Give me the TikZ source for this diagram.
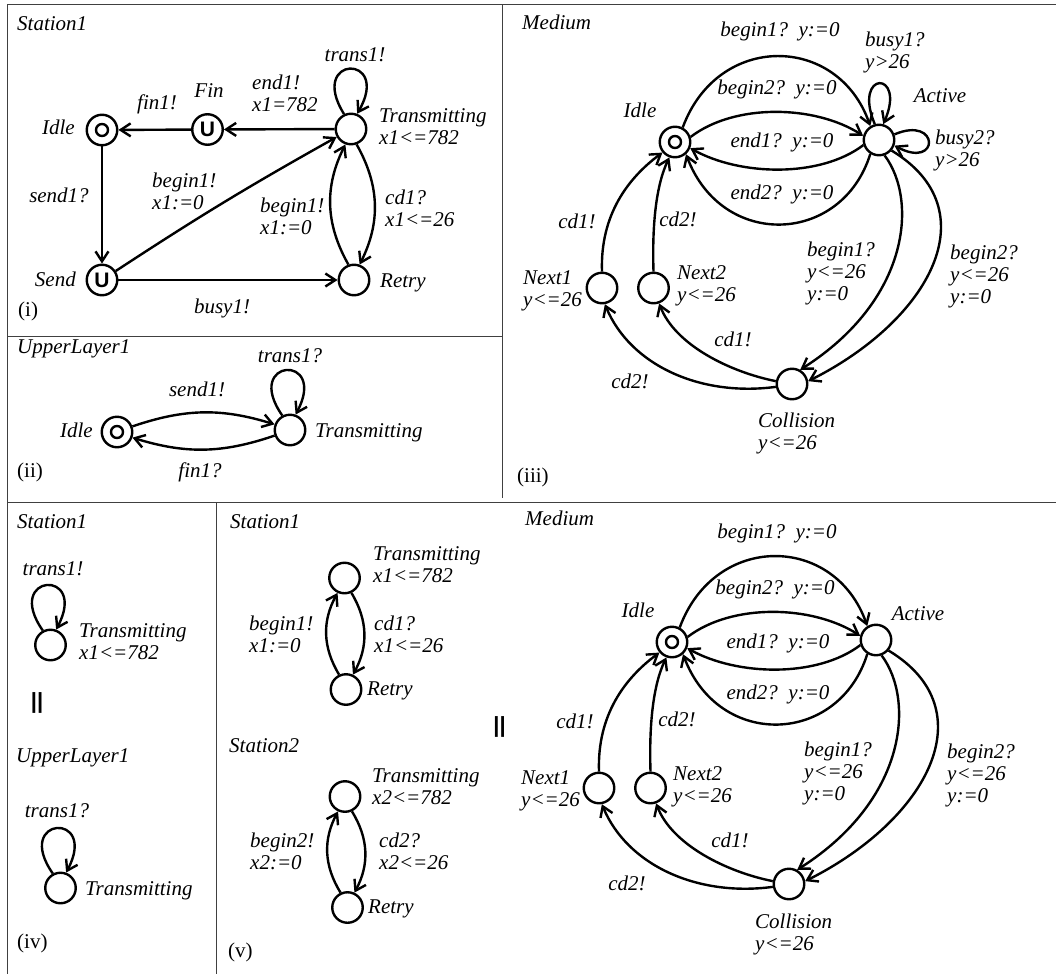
\documentclass[tikz,border=0pt]{standalone}
\usepackage{fontspec}
\setmainfont{Liberation Serif}
\newfontfamily\ufont{Liberation Sans}
\usetikzlibrary{arrows.meta}
\begin{document}
\begin{tikzpicture}[x=1pt,y=1pt,
  st/.style={circle,draw,line width=2.4pt,minimum size=30.5pt,inner sep=0pt},
  ini/.style={st,path picture={\draw[line width=2.4pt] (path picture bounding box.center) circle (6pt);}},
  urg/.style={st,font=\ufont\bfseries\fontsize{21}{21}\selectfont},
  tr/.style={line width=2.4pt,-{Straight Barb[length=10pt,width=13pt]}},
  lb/.style={font=\itshape\fontsize{21}{22}\selectfont,inner sep=0pt,align=left},
  pn/.style={font=\fontsize{21}{22}\selectfont,inner sep=0pt},
  par/.style={font=\ufont\bfseries\fontsize{22}{22}\selectfont,inner sep=0pt},
  fr/.style={line width=1pt,draw=black!75}]
\useasboundingbox (0,0) rectangle (1056,-974);
% frame
\draw[fr] (7,-4.5) -- (1056,-4.5);
\draw[fr] (7,-4.5) -- (7,-974);
\draw[fr] (502,-4.5) -- (502,-498);
\draw[fr] (7,-336) -- (502,-336);
\draw[fr] (7,-502) -- (1056,-502);
\draw[fr] (216,-502) -- (216,-974);

% ---------------- (i) Station1
\node[ini] (a1) at (102,-130) {};
\node[urg] (f1) at (207.5,-129.5) {U};
\node[st] (t1) at (351,-129) {};
\node[urg] (s1) at (102,-280) {U};
\node[st] (r1) at (354,-280) {};
\draw[tr] (f1) -- (a1);
\draw[tr] (t1) -- (f1);
\draw[tr] (a1) -- (s1);
\draw[tr] (s1) to[bend left=2] (t1);
\draw[tr] (s1) -- (r1);
\draw[tr] (t1.290) to[bend left=28] (r1.70);
\draw[tr] (r1.110) to[bend left=28] (t1.250);
\draw[tr] (t1.115) .. controls +(122:70) and +(60:70) .. (t1.68);
\node[lb,anchor=base west] (i1) at (17,-31) {Station1};
\node[lb,anchor=base] (i2) at (355,-62) {trans1!};
\node[lb,anchor=base west] (i3) at (252,-111) {end1!\\x1=782};
\node[lb,anchor=base] (i4) at (209,-97) {Fin};
\node[lb,anchor=base] (i5) at (157,-109) {fin1!};
\node[lb,anchor=base east] (i6) at (75,-134) {Idle};
\node[lb,anchor=base west] (i7) at (379,-144) {Transmitting\\x1<=782};
\node[lb,anchor=base] (i8) at (59,-202) {send1?};
\node[lb,anchor=base west] (i9) at (152,-209) {begin1!\\x1:=0};
\node[lb,anchor=base west] (i10) at (260,-234) {begin1!\\x1:=0};
\node[lb,anchor=base west] (i11) at (385,-226) {cd1?\\x1<=26};
\node[lb,anchor=base east] (i12) at (76,-286) {Send};
\node[lb,anchor=base west] (i13) at (380,-287) {Retry};
\node[lb,anchor=base] (i14) at (222,-313) {busy1!};
\node[pn,anchor=base west] (i15) at (18,-316) {(i)};

% ---------------- (ii) UpperLayer1
\node[ini] (a2) at (117,-432) {};
\node[st] (t2) at (290,-430) {};
\draw[tr] (a2.20) to[bend left=18] (t2.160);
\draw[tr] (t2.200) to[bend left=18] (a2.-20);
\draw[tr] (t2.118) .. controls +(125:70) and +(62:70) .. (t2.70);
\node[lb,anchor=base west] (ii1) at (17,-353) {UpperLayer1};
\node[lb,anchor=base east] (ii2) at (93,-437) {Idle};
\node[lb,anchor=base west] (ii3) at (315,-437) {Transmitting};
\node[lb,anchor=base] (ii4) at (197,-396) {send1!};
\node[lb,anchor=base] (ii5) at (290,-362) {trans1?};
\node[lb,anchor=base] (ii6) at (200,-477) {fin1?};
\node[pn,anchor=base west] (ii7) at (17,-477) {(ii)};

% ---------------- Medium (iii) and (v)
\newcommand\mediumcore{%
  \node[ini] (I) at (675,-142) {};
  \node[st] (A) at (879,-140) {};
  \node[st] (N1) at (602,-288) {};
  \node[st] (N2) at (653.5,-288) {};
  \node[st] (C) at (792,-384) {};
  \draw[tr] (I.62) .. controls (718,-32) and (838,-34) .. (A.122);
  \draw[tr] (I.18) .. controls (735,-103) and (815,-105) .. (A.165);
  \draw[tr] (A.198) .. controls (820,-178) and (740,-176) .. (I.338);
  \draw[tr] (A.238) .. controls (842,-245) and (722,-250) .. (I.312);
  \draw[tr] (N1.90) .. controls (600,-215) and (628,-178) .. (I.220);
  \draw[tr] (N2.90) .. controls (652,-225) and (656,-185) .. (I.250);
  \draw[tr] (A.290) .. controls (918,-200) and (910,-300) .. (C.60);
  \draw[tr] (A.320) .. controls (990,-210) and (930,-320) .. (C.10);
  \draw[tr] (C.170) .. controls (730,-372) and (675,-345) .. (N2.290);
  \draw[tr] (C.190) .. controls (700,-397) and (630,-365) .. (N1.280);
}
\begin{scope}[name prefix=m3-]
  \mediumcore
  \draw[tr] (A.105) .. controls (852,-70) and (907,-70) .. (A.75);
  \draw[tr] (A.20) .. controls (940,-115) and (940,-170) .. (A.-20);
\end{scope}
\begin{scope}[shift={(-3,-500)},name prefix=m5-]
  \mediumcore
\end{scope}
% labels (iii)
\node[lb,anchor=base west] (m1) at (522,-30) {Medium};
\node[lb,anchor=base] (m2) at (780,-37) {begin1?\ \ y:=0};
\node[lb,anchor=base] (m3) at (777,-94) {begin2?\ \ y:=0};
\node[lb,anchor=base] (m4) at (640,-117) {Idle};
\node[lb,anchor=base] (m5) at (940,-102) {Active};
\node[lb,anchor=base west] (m6) at (865,-68) {busy1?\\y>26};
\node[lb,anchor=base] (m7) at (782,-147) {end1?\ \ y:=0};
\node[lb,anchor=base west] (m8) at (935,-166) {busy2?\\y>26};
\node[lb,anchor=base] (m9) at (782,-199) {end2?\ \ y:=0};
\node[lb,anchor=base] (m10) at (577,-228) {cd1!};
\node[lb,anchor=base] (m11) at (678,-226) {cd2!};
\node[lb,anchor=base west] (m12) at (807,-300) {begin1?\\y<=26\\y:=0};
\node[lb,anchor=base west] (m13) at (950,-303) {begin2?\\y<=26\\y:=0};
\node[lb,anchor=base west] (m14) at (523,-306) {Next1\\y<=26};
\node[lb,anchor=base west] (m15) at (677,-301) {Next2\\y<=26};
\node[lb,anchor=base] (m16) at (733,-346) {cd1!};
\node[lb,anchor=base] (m17) at (630,-388) {cd2!};
\node[lb,anchor=base west] (m18) at (758,-449) {Collision\\y<=26};
\node[pn,anchor=base west] (m19) at (517,-482) {(iii)};
% labels (v) medium
\node[lb,anchor=base west] (n1) at (525,-525) {Medium};
\node[lb,anchor=base] (n2) at (777,-538) {begin1?\ \ y:=0};
\node[lb,anchor=base] (n3) at (775,-594) {begin2?\ \ y:=0};
\node[lb,anchor=base] (n4) at (638,-617) {Idle};
\node[lb,anchor=base] (n5) at (918,-620) {Active};
\node[lb,anchor=base] (n7) at (778,-648) {end1?\ \ y:=0};
\node[lb,anchor=base] (n9) at (778,-699) {end2?\ \ y:=0};
\node[lb,anchor=base] (n10) at (575,-728) {cd1!};
\node[lb,anchor=base] (n11) at (677,-726) {cd2!};
\node[lb,anchor=base west] (n12) at (804,-800) {begin1?\\y<=26\\y:=0};
\node[lb,anchor=base west] (n13) at (947,-802) {begin2?\\y<=26\\y:=0};
\node[lb,anchor=base west] (n14) at (521,-806) {Next1\\y<=26};
\node[lb,anchor=base west] (n15) at (673,-802) {Next2\\y<=26};
\node[lb,anchor=base] (n16) at (730,-847) {cd1!};
\node[lb,anchor=base] (n17) at (627,-890) {cd2!};
\node[lb,anchor=base west] (n18) at (755,-950) {Collision\\y<=26};
\node[par] (p2) at (499.5,-727) {||};

% ---------------- (iv)
\node[st] (t4) at (50.5,-645) {};
\draw[tr] (t4.118) .. controls +(125:70) and +(62:70) .. (t4.70);
\node[st] (u4) at (60.5,-888) {};
\draw[tr] (u4.118) .. controls +(125:70) and +(62:70) .. (u4.70);
\node[lb,anchor=base west] (iv1) at (17,-528) {Station1};
\node[lb,anchor=base] (iv2) at (53,-575) {trans1!};
\node[lb,anchor=base west] (iv3) at (79,-659) {Transmitting\\x1<=782};
\node[par] (p1) at (37,-703) {||};
\node[lb,anchor=base west] (iv4) at (16,-762) {UpperLayer1};
\node[lb,anchor=base] (iv5) at (57,-817) {trans1?};
\node[lb,anchor=base west] (iv6) at (85,-895) {Transmitting};
\node[pn,anchor=base west] (iv7) at (17,-948) {(iv)};

% ---------------- (v) stations
\node[st] (t5) at (344.5,-578) {};
\node[st] (r5) at (346,-689.5) {};
\draw[tr] (r5.115) to[bend left=30] (t5.245);
\draw[tr] (t5.295) to[bend left=30] (r5.65);
\node[st] (t6) at (345,-796.5) {};
\node[st] (r6) at (347.5,-907.5) {};
\draw[tr] (r6.115) to[bend left=30] (t6.245);
\draw[tr] (t6.295) to[bend left=30] (r6.65);
\node[lb,anchor=base west] (v1) at (230,-528) {Station1};
\node[lb,anchor=base west] (v2) at (373,-582) {Transmitting\\x1<=782};
\node[lb,anchor=base west] (v3) at (249,-652) {begin1!\\x1:=0};
\node[lb,anchor=base west] (v4) at (374,-652) {cd1?\\x1<=26};
\node[lb,anchor=base west] (v5) at (367,-695) {Retry};
\node[lb,anchor=base west] (v6) at (229,-752) {Station2};
\node[lb,anchor=base west] (v7) at (372,-804) {Transmitting\\x2<=782};
\node[lb,anchor=base west] (v8) at (250,-869) {begin2!\\x2:=0};
\node[lb,anchor=base west] (v9) at (379,-869) {cd2?\\x2<=26};
\node[lb,anchor=base west] (v10) at (368,-913) {Retry};
\node[pn,anchor=base west] (v11) at (228,-957) {(v)};
\end{tikzpicture}
\end{document}
